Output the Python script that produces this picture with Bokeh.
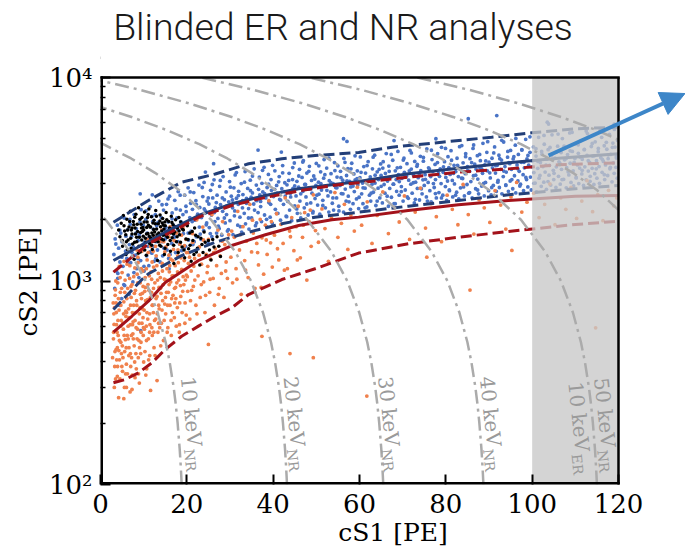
import math
from bokeh.plotting import figure
from bokeh.models import Arrow, NormalHead, FixedTicker, Title
from bokeh.embed import file_html
from bokeh.resources import INLINE
from bokeh.core.properties import value

# ---------------- data ----------------
x_ticks = [0, 20, 40, 60, 80, 100, 120]
y_ticks = [100, 1000, 10000]
y_minor_ticks = [200, 300, 400, 500, 600, 700, 800, 900, 2000, 3000, 4000, 5000, 6000, 7000, 8000, 9000]
y_tick_labels = {100: "10\u00b2", 1000: "10\u00b3", 10000: "10\u2074"}

# ER (blue) events: (cS1, cS2)
er_events = [
 (3.1,1350),(3.3,920),(3.4,1610),(3.7,1120),(3.9,1880),(4.0,1030),(4.2,1450),(4.5,1240),(4.7,1720),(4.9,820),
 (5.0,1560),(5.2,1180),(5.5,2040),(5.6,950),(5.8,1400),(6.1,1290),(6.3,1790),(6.4,1070),(6.7,1510),(6.9,1900),
 (7.0,1230),(7.2,1660),(7.5,990),(7.6,1470),(7.8,2120),(8.1,1340),(8.3,1810),(8.4,1150),(8.7,1580),(8.9,1040),
 (9.0,1690),(9.3,1260),(9.4,2240),(9.6,1410),(9.9,1880),(10.1,1120),(10.2,1550),(10.5,2010),(10.7,1330),(10.8,1720),
 (11.0,1480),(11.2,1190),(11.5,2320),(11.6,1640),(11.9,1370),(12.1,1960),(12.2,1800),(12.4,1250),(12.7,2120),(12.9,1560),
 (13.0,1870),(13.2,1420),(13.5,2470),(13.6,1690),(13.8,1240),(14.1,2050),(14.3,1560),(14.4,1330),(14.6,2230),(14.9,1780),
 (15.0,1610),(15.3,2380),(15.4,1420),(15.7,1950),(15.8,1290),(16.0,2610),(16.2,1770),(16.5,1530),(16.6,2160),(16.9,1880),
 (17.1,1640),(17.2,2490),(17.4,1380),(17.7,2040),(17.9,1790),(18.0,2750),(18.3,1520),(18.5,2230),(18.6,1960),(18.8,1410),
 (19.1,2120),(19.2,1710),(19.5,2640),(19.7,1480),(19.8,2330),(20.1,1890),(20.3,2870),(20.4,1590),(20.7,2050),(20.9,2410),
 (21.0,1760),(21.3,2250),(21.4,1510),(21.6,2720),(21.9,1990),(22.1,2480),(22.2,1650),(22.5,2130),(22.8,2960),(22.9,1840),
 (23.0,2300),(23.3,1600),(23.4,2050),(23.7,2600),(23.9,1770),(24.0,3050),(24.3,2210),(24.6,1930),(24.7,2470),(24.9,1540),
 (25.1,2390),(25.2,1830),(25.5,2790),(25.7,2110),(25.8,1650),(26.0,2560),(26.3,3140),(26.5,1960),(26.6,2300),(26.9,1720),
 (27.0,2640),(27.2,2030),(27.5,1810),(27.6,2920),(27.8,2370),(28.1,1680),(28.3,2200),(28.4,3260),(28.7,2510),(28.9,1930),
 (29.1,2740),(29.2,2120),(29.4,1760),(29.7,2450),(29.9,3080),(30.0,1980),(30.3,2610),(30.6,2290),(30.7,1690),(30.9,2870),
 (31.1,2210),(31.2,3320),(31.5,2550),(31.8,1880),(31.9,2380),(32.0,2760),(32.3,2060),(32.6,3010),(32.7,1740),(32.9,2480),
 (33.0,2660),(33.3,2150),(33.5,3450),(33.6,1910),(33.8,2410),(34.1,2850),(34.3,2270),(34.4,1800),(34.7,3130),(34.9,2580),
 (35.0,2040),(35.2,2710),(35.5,2390),(35.6,3560),(35.9,1870),(36.1,2960),(36.2,2480),(36.5,2170),(36.8,3240),(36.9,2650),
 (37.1,2320),(37.3,1960),(37.4,3020),(37.6,2740),(37.9,3620),(38.0,2110),(38.3,2560),(38.5,1850),(38.6,2880),(38.9,3340),
 (39.0,2430),(39.3,2060),(39.5,3150),(39.6,2790),(39.8,1920),(40.1,2600),(40.4,3480),(40.5,2250),(40.8,2950),(40.9,2700),
 (41.1,2150),(41.4,3260),(41.5,2520),(41.7,1990),(42.0,2840),(42.2,3690),(42.4,2380),(42.7,3040),(42.8,2610),(43.0,2080),
 (43.2,2970),(43.4,2460),(43.7,3380),(43.8,2230),(44.0,2700),(44.3,1980),(44.5,3150),(44.6,2850),(44.9,3800),(45.0,2340),
 (45.3,2620),(45.5,3090),(45.6,2150),(45.9,2890),(46.1,3540),(46.2,2470),(46.4,2040),(46.7,3230),(46.9,2760),(47.0,3900),
 (47.2,2290),(47.5,2980),(47.6,2590),(47.8,3390),(48.1,2110),(48.3,2830),(48.4,3660),(48.7,2420),(48.9,3120),(49.0,2700),
 (49.2,2200),(49.4,3280),(49.7,2540),(49.9,2950),(50.0,3780),(50.3,2360),(50.5,3060),(50.6,2670),(50.8,2130),(51.0,3440),
 (51.2,2800),(51.5,2490),(51.7,3200),(51.8,3950),(52.1,2290),(52.3,2930),(52.4,3590),(52.7,2620),(52.9,2180),(53.0,3110),
 (53.3,2740),(53.4,3370),(53.7,2410),(53.9,3010),(54.0,2230),(54.2,3820),(54.5,2880),(54.7,2560),(54.8,3240),(55.0,3680),
 (55.2,2330),(55.5,2950),(55.6,3460),(55.8,2690),(56.1,3130),(56.3,2180),(56.4,4000),(56.7,2830),(56.9,2470),(57.0,3300),
 (57.3,3570),(57.4,2610),(57.7,3090),(57.9,2250),(58.0,2900),(58.2,3790),(58.5,2400),(58.7,3360),(58.8,2750),(59.0,3140),
 (59.3,2530),(59.5,3480),(59.6,2960),(59.8,2270),(60.1,3220),(60.2,4070),(60.5,2680),(60.7,3030),(60.8,2400),(61.0,3650),
 (61.3,2860),(61.4,3390),(61.7,2310),(61.9,3100),(62.0,3860),(62.3,2640),(62.5,3250),(62.6,2470),(62.9,2990),(63.0,3560),
 (63.2,2730),(63.5,4150),(63.6,3030),(63.8,2350),(64.1,3440),(64.3,2860),(64.4,3150),(64.7,2560),(64.9,3760),(65.0,3300),
 (65.3,2420),(65.4,3590),(65.7,2980),(65.9,2700),(66.0,3380),(66.2,4230),(66.5,3100),(66.7,2330),(66.8,3670),(67.0,2850),
 (67.3,3240),(67.4,2580),(67.7,3920),(67.9,2990),(68.0,2400),(68.3,3480),(68.5,3150),(68.6,2760),(68.9,4330),(69.0,3330),
 (69.2,2640),(69.5,3620),(69.7,2910),(69.8,3190),(70.1,2470),(70.3,4010),(70.4,3420),(70.6,2800),(70.9,3280),(71.0,3770),
 (71.3,2550),(71.4,3130),(71.7,4380),(71.9,2990),(72.0,3550),(72.2,2700),(72.5,3310),(72.7,2420),(72.8,3870),(73.0,3060),
 (73.3,3660),(73.4,2850),(73.6,3220),(73.9,2500),(74.1,4100),(74.2,3490),(74.5,2680),(74.7,3140),(74.8,3880),(75.0,2950),
 (75.2,3330),(75.5,2590),(75.6,4460),(75.9,3050),(76.0,3600),(76.3,2780),(76.5,3260),(76.6,2450),(76.8,3950),(77.0,3450),
 (77.3,2880),(77.5,3740),(77.6,3150),(77.8,2560),(78.1,4220),(78.3,3370),(78.4,2720),(78.7,3560),(78.9,3010),(79.0,4540),
 (79.3,2640),(79.4,3420),(79.7,3860),(79.9,2910),(80.0,3230),(80.2,2490),(80.5,4080),(80.7,3610),(80.8,2800),(81.0,3340),
 (81.2,4370),(81.5,3120),(81.6,2590),(81.9,3700),(82.0,3000),(82.3,3450),(82.5,2730),(82.6,4010),(82.9,3260),(83.0,2530),
 (83.3,3560),(83.4,2870),(83.7,4630),(83.9,3190),(84.0,3810),(84.3,2620),(84.5,3370),(84.6,4220),(84.9,2980),(85.0,3650),
 (85.3,2700),(85.5,3460),(85.6,3990),(85.8,3080),(86.1,2560),(86.3,4480),(86.4,3290),(86.7,3750),(86.9,2840),(87.0,3550),
 (87.3,4130),(87.4,3170),(87.6,2680),(87.9,3600),(88.0,3900),(88.3,2930),(88.5,3380),(88.6,4750),(88.9,2620),(89.0,3720),
 (89.2,3050),(89.5,4290),(89.6,3480),(89.9,2780),(90.0,3840),(90.3,3210),(90.5,2650),(90.7,4010),(90.8,3600),(91.0,2950),
 (91.3,4560),(91.5,3390),(91.7,2760),(91.9,3700),(92.1,3120),(92.3,4150),(92.4,2880),(92.7,3540),(92.9,3930),(93.0,2680),
 (93.3,3260),(93.4,4820),(93.7,3650),(93.9,2950),(94.0,3430),(94.3,4060),(94.5,2760),(94.6,3820),(94.9,3100),(95.0,4380),
 (95.2,3540),(95.5,2840),(95.6,3980),(95.9,3290),(96.1,4650),(96.2,2710),(96.5,3720),(96.7,3100),(96.8,4190),(97.0,3460),
 (97.3,2990),(97.5,3830),(97.6,4420),(97.9,3330),(98.0,2780),(98.2,3600),(98.5,4970),(98.7,3150),(98.8,3980),(99.0,2900),
 (99.2,3710),(99.5,4290),(99.6,3240),(99.8,2800),(100.1,3900),(100.3,4560),(100.4,3410),(100.7,3030),(100.9,4110),(101.0,2740),
 (101.3,3580),(101.5,5080),(101.6,3200),(101.9,3820),(102.1,2920),(102.2,4330),(102.5,3650),(102.7,3060),(102.8,4700),(103.0,3430),
 (103.3,2820),(103.4,3970),(103.7,4420),(103.9,3310),(104.0,3700),(104.3,2960),(104.5,4150),(104.6,5230),(104.9,3500),(105.0,3150),
 (105.3,4010),(105.5,2880),(105.6,3640),(105.9,4600),(106.1,3270),(106.2,3850),(106.5,2990),(106.7,4280),(106.8,3540),(107.0,5010),
 (107.3,3160),(107.5,3940),(107.6,4490),(107.9,2870),(108.0,3610),(108.2,4180),(108.5,3320),(108.7,5340),(108.8,3790),(109.0,3050),
 (109.3,4330),(109.5,3480),(109.6,2930),(109.9,4000),(110.1,4720),(110.2,3230),(110.5,3720),(110.7,4240),(110.8,3010),(111.0,3590),
 (111.3,4900),(111.5,3360),(111.6,3960),(111.9,2950),(112.1,4430),(112.2,3640),(112.5,3140),(112.7,4140),(112.8,5300),(113.0,3470),
 (113.3,3830),(113.4,3090),(113.7,4580),(113.9,3580),(114.0,4110),(114.3,2980),(114.5,3370),(114.6,4830),(114.9,3900),(115.0,3200),
 (115.3,4320),(115.5,3650),(115.6,3020),(115.9,4040),(116.1,5080),(116.2,3420),(116.5,3870),(116.7,4620),(116.8,3150),(117.0,3720),
 (117.3,4440),(117.5,3300),(117.6,3990),(117.9,5250),(118.0,3560),(118.2,4190),(118.5,3070),(118.7,4760),(118.8,3810),(119.0,3380),
 (119.2,4550),(119.4,3620),(119.5,4090),(119.7,3200),(119.8,4900),
 (26.2,3770),(56.3,5000),(57.1,4850),(85.2,6270),(91.8,6500),(103.8,5910),(9.3,571),(12.0,2650),(36.5,4400),(68.0,4900),
 (116.5,5500),(119.0,5900),(9.2,2680),(24.3,3430),(103.5,6030),(4.4,760),(6.6,860),(15.9,1150),(41.9,4300),(77.7,5000),
 (3.55,1520),(4.02,1090),(4.48,1780),(4.95,1310),(5.41,960),(5.88,1660),(6.35,1230),(6.81,2010),(7.28,1380),(7.74,1100),
 (8.21,1720),(8.67,1290),(9.14,1950),(9.61,1500),(10.07,1180),(10.54,2210),(10.99,1620),(11.46,1390),(11.93,2080),(12.39,1480),
 (12.86,1290),(13.32,1940),(13.79,1610),(14.26,2370),(14.72,1450),(15.19,1830),(15.65,2530),(16.12,1350),(16.58,2020),(17.05,1690),
 (17.52,2260),(17.98,1560),(18.45,2640),(18.91,1830),(19.38,1450),(19.85,2190),(20.31,1720),(20.78,2740),(21.24,1960),(21.71,1560),
 (22.17,2380),(22.64,2050),(23.11,1700),(23.57,2880),(24.04,2260),(24.5,1890),(24.97,2560),(25.43,1710),(25.9,2980),(26.37,2170),
 (26.83,2430),(27.3,1860),(27.76,3120),(28.23,2560),(28.69,2040),(29.16,2330),(29.63,1790),(30.09,2890),(30.56,2500),(31.02,2090),
 (31.49,3410),(31.95,2630),(32.42,1850),(32.89,2290),(33.35,3060),(33.82,2550),(34.28,2040),(34.75,2780),(35.21,3280),(35.68,2230),
 (36.15,1930),(36.61,2820),(37.08,2460),(37.54,3500),(38.01,2690),(38.47,2010),(38.94,2990),(39.41,2380),(39.87,3700),(40.34,2820),
 (40.8,2150),(41.27,3070),(41.73,2500),(42.2,3400),(42.67,2750),(43.13,2070),(43.6,3120),(44.06,2590),(44.53,3610),(44.99,2930),
 (45.46,2260),(45.93,3280),(46.39,2680),(46.86,3840),(47.32,2980),(47.79,2390),(48.25,3460),(48.72,2840),(49.19,2160),(49.65,3170),
 (50.12,2640),(50.58,3680),(51.05,3010),(51.51,2350),(51.98,3330),(52.45,2790),(52.91,4010),(53.38,3040),(53.84,2560),(54.31,3490),
 (54.77,2870),(55.24,2210),(55.71,3220),(56.17,2680),(56.64,3830),(57.1,3100),(57.57,2450),(58.03,3560),(58.5,2930),(58.97,4120),
 (59.43,3180),(59.9,2580),(60.36,3420),(60.83,2870),(61.29,2290),(61.76,3690),(62.23,3140),(62.69,2700),(63.16,4060),(63.62,3310),
 (64.09,2470),(64.55,3540),(65.02,2920),(65.49,3860),(65.95,3180),(66.42,2610),(66.88,3460),(67.35,4190),(67.81,2990),(68.28,2400),
 (68.75,3600),(69.21,3080),(69.68,2750),(70.14,3930),(70.61,3250),(71.07,2590),(71.54,3480),(72.01,4260),(72.47,3040),(72.94,2520),
 (73.4,3740),(73.87,3330),(74.33,2840),(74.8,4050),(75.27,3160),(75.73,2470),(76.2,3550),(76.66,4390),(77.13,3010),(77.59,2690),
 (78.06,3820),(78.53,3270),(78.99,2560),(79.46,3640),(79.92,4480),(80.39,3100),(80.85,2780),(81.32,3920),(81.79,3380),(82.25,2640),
 (82.72,3700),(83.18,4570),(83.65,3200),(84.11,2900),(84.58,4080),(85.05,3490),(85.51,2720),(85.98,3820),(86.44,4660),(86.91,3310),
 (87.37,2800),(87.84,4190),(88.31,3560),(88.77,3020),(89.24,3890),(89.7,4840),(90.17,3400),(90.63,2880),(91.1,4260),(91.57,3690),
 (92.03,3060),(92.5,3990),(92.96,4910),(93.43,3470),(93.89,2970),(94.36,4330),(94.83,3770),(95.29,3150),(95.76,4080),(96.22,5020),
 (96.69,3560),(97.15,2930),(97.62,4400),(98.09,3830),(98.55,3230),(99.02,4140),(99.48,5110),(99.95,3640),(100.41,3020),(100.88,4470),
 (101.35,3870),(101.81,3300),(102.28,4200),(102.74,5190),(103.21,3710),(103.67,3080),(104.14,4530),(104.61,3940),(105.07,3380),(105.54,4290),
 (106.0,5270),(106.47,3770),(106.93,3150),(107.4,4600),(107.87,4000),(108.33,3440),(108.8,4360),(109.26,5380),(109.73,3830),(110.19,3210),
 (110.66,4670),(111.13,4060),(111.59,3500),(112.06,4420),(112.52,5460),(112.99,3900),(113.45,3270),(113.92,4740),(114.39,4120),(114.85,3560),
 (115.32,4480),(115.78,5510),(116.25,3960),(116.71,3330),(117.18,4800),(117.65,4170),(118.11,3620),(118.58,4540),(119.04,5560),(119.51,4020),
]

# NR (orange) events: (cS1, cS2)
nr_events = [
 (2.8,420),(3.0,520),(3.1,690),(3.3,380),(3.4,850),(3.6,460),(3.7,610),(3.9,340),(4.0,980),(4.1,540),
 (4.3,720),(4.4,410),(4.6,880),(4.7,500),(4.8,640),(5.0,1100),(5.1,360),(5.3,580),(5.4,790),(5.6,450),
 (5.7,1010),(5.9,670),(6.0,390),(6.2,540),(6.3,920),(6.5,730),(6.6,470),(6.8,1190),(6.9,610),(7.1,830),
 (7.2,420),(7.4,700),(7.5,550),(7.7,1050),(7.8,480),(8.0,640),(8.1,900),(8.3,370),(8.4,760),(8.6,580),
 (8.7,1230),(8.9,510),(9.0,690),(9.2,980),(9.3,440),(9.5,820),(9.6,620),(9.8,1120),(9.9,540),
 (10.1,720),(10.3,450),(10.4,930),(10.6,600),(10.8,1270),(10.9,810),(11.1,520),(11.3,1060),(11.4,690),(11.6,1480),
 (11.8,880),(11.9,590),(12.1,760),(12.3,1170),(12.4,470),(12.6,980),(12.8,650),(12.9,1330),(13.1,840),(13.3,560),
 (13.4,1090),(13.6,730),(13.8,1560),(13.9,920),(14.1,620),(14.3,1220),(14.4,800),(14.6,510),(14.8,1020),(14.9,1390),
 (15.1,690),(15.3,880),(15.4,1150),(15.6,590),(15.8,1650),(15.9,960),(16.1,760),(16.3,1280),(16.4,540),(16.6,1060),
 (16.8,850),(16.9,1430),(17.1,660),(17.3,1190),(17.4,930),(17.6,1720),(17.8,740),(17.9,1330),(18.1,1010),(18.3,610),
 (18.4,1520),(18.6,840),(18.8,1140),(18.9,700),(19.1,1820),(19.3,960),(19.4,1260),(19.6,780),(19.8,1600),(19.9,1070),
 (20.2,890),(20.5,1380),(20.7,650),(21.0,1120),(21.3,1710),(21.5,940),(21.8,1290),(22.1,760),(22.3,2000),(22.6,1060),
 (22.9,1470),(23.1,830),(23.4,1210),(23.7,1840),(23.9,990),(24.2,700),(24.5,1350),(24.7,1100),(25.0,1600),(25.3,880),
 (25.5,1280),(25.8,2120),(26.1,1030),(26.4,760),(26.6,1440),(26.9,1190),(27.2,1780),(27.5,920),(27.7,1330),(28.0,1090),
 (28.3,1960),(28.6,830),(28.8,1510),(29.1,1240),(29.4,1030),(29.7,1690),
 (30.2,1310),(30.6,980),(31.0,1640),(31.4,1150),(31.8,2200),(32.2,1420),(32.6,860),(33.0,1850),(33.4,1260),(33.8,1570),
 (34.2,1040),(34.6,2380),(35.0,1390),(35.4,1720),(35.8,920),(36.2,1530),(36.6,1200),(37.0,2010),(37.4,1630),(37.8,1080),
 (38.2,1880),(38.6,1350),(39.0,2480),(39.4,1540),(39.8,1170),
 (40.3,1680),(40.8,2140),(41.3,1270),(41.8,1900),(42.3,1530),(42.8,2560),(43.3,1150),(43.8,1760),(44.3,2050),(44.8,1410),
 (45.3,1850),(45.8,2330),(46.3,1300),(46.8,1640),(47.3,2170),(47.8,1010),(48.3,1960),(48.8,1480),(49.3,2650),(49.8,1770),
 (50.5,1550),(51.3,2260),(52.0,1810),(52.8,1250),(53.5,2040),(54.3,2720),(55.0,1640),(55.8,1920),(56.5,2380),(57.3,1430),
 (58.0,2110),(58.8,1760),(59.5,2890),
 (60.5,1880),(61.8,2450),(62.9,1530),(64.1,2100),(65.4,2740),(66.7,1710),(68.0,2290),(69.2,1950),(70.4,2620),(71.6,1600),
 (72.9,2180),(74.1,2860),(75.3,1820),(76.6,2400),(77.8,2070),(79.0,1560),(80.3,2640),(81.5,2250),(82.8,1890),(84.0,2980),
 (85.2,2120),(86.5,1700),(87.7,2510),(88.9,2290),(90.2,1940),(91.4,2780),(92.7,2360),(93.9,1800),(95.1,2590),(96.4,3050),
 (97.6,2180),(98.8,2440),
 (100.4,2700),(101.6,2050),(102.9,2380),(104.1,3000),(105.3,1890),(106.6,2560),(107.8,2250),(109.0,2880),(110.3,2030),(111.5,2470),
 (112.7,3110),(114.0,2190),(115.2,2660),(116.4,1980),(117.7,2790),(118.9,2340),(119.6,2560),
 (25.0,488),(43.9,440),(49.3,420),(37.4,535),(85.6,902),(114.7,589),(61.7,272),(95.3,1413),(75.6,1310),(5.4,264),
 (11.6,290),(13.1,324),(4.2,267),(7.3,293),(9.0,315),(6.0,300),(3.5,330),(10.5,345),(8.0,335),
 (3.2,300),(3.9,470),(4.5,330),(5.2,420),(5.8,350),(6.4,600),(7.0,380),(7.6,520),(8.2,440),(8.8,350),
 (9.4,560),(10.0,400),(10.7,370),(11.4,430),(12.0,540),(3.6,780),(4.9,920),(6.1,820),(7.3,960),(8.5,1080),
 (9.7,870),(11.0,960),(12.2,1400),
 (3.15,612),(3.45,905),(3.85,560),(4.25,455),(4.55,1040),(4.95,380),(5.35,690),(5.75,515),(6.15,1210),(6.55,430),
 (6.95,760),(7.35,345),(7.85,870),(8.25,590),(8.65,1310),(9.05,470),(9.45,1150),(9.85,660),(10.25,890),(10.65,510),
 (11.05,1380),(11.45,610),(11.85,1020),(12.25,700),(12.65,430),(13.05,1190),(13.45,620),(13.85,1040),(14.25,720),(14.65,1560),
 (15.05,830),(15.45,560),(15.85,1340),(16.25,990),(16.65,700),(17.05,1580),(17.45,820),(17.85,1110),(18.25,560),(18.65,1300),
 (19.05,890),(19.45,1490),(19.85,680),(20.35,1220),(20.85,800),(21.35,1550),(21.85,1010),(22.35,690),(22.85,1340),(23.35,960),
 (23.85,1590),(24.35,850),(24.85,1180),(3.25,740),(3.75,410),(4.15,820),(4.65,600),(5.05,480),(5.45,1250),(5.85,710),
 (6.25,350),(6.75,1030),(7.15,540),(7.55,630),(7.95,1160),(8.35,800),(8.75,420),(9.15,740),(9.55,1400),(9.95,590),
 (10.35,1040),(10.75,700),(11.15,410),(11.55,830),(11.95,1240),(12.35,560),(12.75,1480),(13.15,690),(13.55,930),(13.95,480),
 (14.35,1120),(14.75,640),(15.15,1470),(15.55,760),(15.95,1110),(16.35,640),(16.75,1260),(17.15,920),(17.55,600),(17.95,1420),
 (18.35,780),(18.75,1680),(19.15,1050),(19.55,620),(19.95,1380),(4.35,1180),(5.55,300),(6.85,285),(8.45,1420),(10.85,1600),
 (12.45,1650),(14.15,1780),(16.15,1850),(3.55,1000),(2.95,780),
 (25.4,1020),(26.2,1380),(27.3,860),(28.2,1570),(29.0,1120),(30.4,1760),(31.6,1020),(32.4,1690),(33.6,1130),(35.2,1990),
 (36.4,1380),(37.2,930),(38.4,1590),(39.6,1960),(41.0,1440),(42.6,1130),(44.0,1650),(45.6,1270),(47.0,1880),(48.6,2230),
 (3.05,560),(3.35,450),(3.65,700),(3.95,380),(4.05,640),(4.38,510),(4.72,760),(4.85,440),(5.15,620),(5.48,540),
 (5.62,880),(5.95,470),(6.05,700),(6.42,520),(6.58,660),(6.92,440),(7.05,940),(7.42,610),(7.68,760),(7.92,400),
 (8.15,700),(8.48,520),(8.62,980),(8.95,620),(9.25,860),(9.38,500),(9.72,730),(9.88,940),(10.18,580),(10.45,800),
 (10.62,1150),(10.95,650),(11.22,900),(11.38,560),(11.72,1110),(11.98,760),(12.28,920),(12.52,640),(12.88,820),(13.22,1010),
 (13.48,760),(13.72,590),(14.02,870),(14.52,960),(14.88,770),(15.22,1010),(15.72,880),(16.02,1190),(16.48,820),(16.92,1060),
 (17.22,780),(17.68,980),(18.02,1230),(18.52,950),(19.02,1130),(19.68,1010),(20.12,1050),(20.62,1310),(21.12,900),(21.62,1180),
]

# black events: (cS1, cS2)
blk_events = [
 (4.5,1650),(4.8,1920),(5.1,1480),(5.3,2100),(5.6,1760),(5.9,1350),(6.1,2010),(6.4,1590),(6.6,1840),(6.9,2200),
 (7.1,1450),(7.3,1700),(7.6,1960),(7.8,1280),(8.0,1820),(8.2,2130),(8.4,1560),(8.6,1750),(8.8,2290),(9.0,1640),
 (9.2,1390),(9.4,1900),(9.6,2050),(9.8,1500),(10.0,1780),(10.2,2180),(10.4,1620),(10.6,1340),(10.8,1950),(11.0,1710),
 (11.2,2260),(11.4,1530),(11.6,1840),(11.8,2070),(12.0,1430),(12.2,1680),(12.4,1990),(12.6,1570),(12.8,2220),(13.0,1800),
 (13.2,1260),(13.4,1910),(13.6,1650),(13.8,2110),(14.0,1480),(14.2,1760),(14.4,2030),(14.6,1590),(14.8,1350),(15.0,1870),
 (15.2,2170),(15.4,1700),(15.6,1510),(15.8,1960),(16.0,1820),(16.2,1400),(16.4,2080),(16.6,1630),(16.8,1890),(17.0,1220),
 (17.2,1740),(17.4,2000),(17.6,1560),(17.8,1820),(18.0,1380),(18.3,1690),(18.6,1950),(18.9,1470),(19.2,1780),(19.5,1300),
 (19.8,1610),(20.1,1870),(20.4,1440),(20.7,1720),(21.0,1250),(21.4,1580),(21.8,1820),(22.2,1390),(22.6,1650),(23.0,1200),
 (23.5,1510),(24.0,1740),(24.5,1330),(25.0,1580),(25.6,1270),(26.3,1470),(27.0,1650),(27.8,1320),
 (7.0,1620),(8.5,1900),(9.9,1660),(11.1,1880),(12.3,1790),(13.5,1720),(14.9,1950),(10.5,1550),(12.9,1580),(15.5,1640),
 (9.3,1730),(11.7,1620),(6.3,1780),(16.9,1700),(13.9,1850),(8.9,1480),(12.7,1910),(14.5,1680),(10.9,2050),(7.9,1550),
 (5.05,1580),(5.45,1870),(5.85,1690),(6.25,1430),(6.75,1960),(7.15,1780),(7.45,1520),(7.95,2060),(8.35,1640),(8.75,1370),
 (9.15,2010),(9.55,1590),(9.85,1830),(10.25,1420),(10.65,1700),(11.05,2120),(11.45,1840),(11.85,1500),(12.15,1930),(12.55,1740),
 (12.95,2080),(13.35,1560),(13.75,1970),(14.15,1610),(14.55,1880),(14.95,1450),(15.35,2000),(15.75,1760),(16.15,1580),(16.55,1940),
 (16.95,1500),(17.35,1850),(17.75,1650),(18.15,2050),(18.55,1550),(18.95,1800),(19.35,1420),(19.75,1930),(20.25,1600),(20.75,1500),
 (21.25,1750),(21.65,1350),(22.05,1680),(22.45,1450),(23.25,1620),(23.75,1380),(24.25,1550),(25.25,1420),(26.0,1600),(27.4,1480),
 (4.2,1780),(6.0,1560),(7.7,1890),(9.7,1750),(11.3,1660),(13.1,1690),(14.7,1800),(16.3,1720),(18.2,1760),(10.1,1950),
 (11.9,1720),(13.7,1500),(8.1,1700),(15.1,1680),(12.1,1570),(9.5,1820),(14.3,1930),(16.7,1800),(7.3,1820),(10.7,1830),
]

# ER band: median and upper / lower quantile lines
er_up_x  = [3.0, 11.1, 18.8, 26.6, 34.3, 42.0, 49.7, 59.8, 67.5, 79.1, 90.6, 99.9, 109.9, 120]
er_up_y  = [1945, 2487, 3058, 3356, 3766, 3986, 4138, 4280, 4545, 4809, 5088, 5349, 5597, 5699]
er_med_x = [3.0, 7.25, 15.0, 22.7, 30.4, 38.2, 45.9, 53.6, 59.8, 71.3, 82.9, 94.5, 106.1, 120]
er_med_y = [1261, 1413, 1737, 2098, 2395, 2630, 2839, 2970, 3083, 3364, 3584, 3809, 4013, 4217]
er_lo_x  = [3.0, 9.6, 11.1, 18.8, 26.6, 34.3, 42.0, 49.7, 59.8, 71.3, 82.9, 94.5, 110, 120]
er_lo_y  = [724, 1017, 1085, 1334, 1551, 1737, 1910, 2058, 2178, 2332, 2487, 2652, 2839, 2947]
# NR band
nr_up_x  = [3.0, 7.25, 11.1, 18.8, 22.7, 30.4, 38.2, 45.9, 53.6, 59.8, 71.3, 82.9, 94.5, 106.1, 120]
nr_up_y  = [1105, 1309, 1523, 1853, 2058, 2350, 2573, 2769, 2947, 3038, 3236, 3424, 3556, 3724, 3809]
nr_med_x = [3.0, 7.25, 11.1, 15.0, 22.7, 30.4, 38.2, 45.9, 53.6, 59.8, 71.3, 82.9, 94.5, 110, 120]
nr_med_y = [560, 671, 796, 983, 1261, 1494, 1687, 1874, 2000, 2060, 2220, 2368, 2487, 2610, 2631]
nr_lo_x  = [3.0, 5.7, 8.8, 11.9, 15.0, 18.8, 22.7, 26.6, 30.4, 34.3, 42.0, 49.7, 59.8, 71.3, 82.9, 94.5, 110, 120]
nr_lo_y  = [316, 328, 354, 396, 461, 535, 600, 671, 738, 858, 1017, 1148, 1372, 1523, 1641, 1751, 1895, 1967]

# iso-energy contours (cS1 values at the listed cS2)
cont_y_grid = [100, 110, 125, 150, 200, 250, 300, 400, 500, 700, 1000, 1400, 2000, 2800,
               3400, 4000, 4700, 5500, 6400, 7500, 8700, 10000, 11500, 13000]
cont_10nr = [18.8, 18.71, 18.57, 18.34, 17.87, 17.41, 16.95, 16.02, 15.1, 13.24, 10.47, 6.76, 1.21, -6.2]
cont_20nr = [43.2, 43.11, 42.97, 42.74, 42.27, 41.81, 41.35, 40.42, 39.5, 37.64, 34.87, 31.16, 25.61, 18.2,
             12.64, 7.09, 0.61, -6.8]
cont_30nr = [65.5, 65.41, 65.27, 65.04, 64.57, 64.11, 63.65, 62.72, 61.8, 59.94, 57.17, 53.46, 47.91, 40.5,
             34.94, 29.39, 22.91, 15.5, 7.17, -3.02]
cont_40nr = [88.7, 88.61, 88.47, 88.24, 87.77, 87.31, 86.85, 85.92, 85.0, 83.14, 80.37, 76.66, 71.11, 63.7,
             58.14, 52.59, 46.11, 38.7, 30.37, 20.18, 9.07, -2.97]
cont_50nr = [115, 114.91, 114.77, 114.54, 114.07, 113.61, 113.15, 112.22, 111.3, 109.44, 106.67, 102.96, 97.41, 90.0,
             84.44, 78.89, 72.41, 65.0, 56.67, 46.48, 35.37, 23.33, 9.44, -4.44]
cont_60nr_y = [1400, 2000, 2800, 3400, 4000, 4700, 5500, 6400, 7500, 8700, 10000, 11500]
cont_60nr = [127.96, 122.41, 115.0, 109.44, 103.89, 97.41, 90.0, 81.67, 71.48, 60.37, 48.33, 34.44]
cont_70nr_y = [2800, 3400, 4000, 4700, 5500, 6400, 7500, 8700, 10000, 11500]
cont_70nr = [140.0, 134.44, 128.89, 122.41, 115.0, 106.67, 96.48, 85.37, 73.33, 59.44]

# contour labels: (main text, subscript, cS1, cS2) at the start of the text baseline
cont_labels = [
    ("10 keV", "NR", 18.44, 336),
    ("20 keV", "NR", 42.28, 336),
    ("30 keV", "NR", 64.17, 336),
    ("40 keV", "NR", 87.73, 336),
    ("50 keV", "NR", 114.2, 332),
    ("10 keV", "ER", 108.2, 317),
]
blind_lo, blind_hi = 100, 120
title_text = "Blinded ER and NR analyses"

# ---------------- figure ----------------
W, H = 685, 554
ML, MR, MT, MB = 100, 0, 0, 70
X0, XMAX, Y0, YMAX = 0, 120, 100, 10000
FW, FH = W - ML - MR, H - MT - MB
PX_PER_UNIT = 518 / 120.0          # axis 0..120 spans 518 px
PX_PER_DEC = 407 / 2.0             # axis 1e2..1e4 spans 407 px
X1 = FW / PX_PER_UNIT              # frame reaches the window edge (room for arrow / title)
Y1 = 10 ** (math.log10(Y0) + FH / PX_PER_DEC)
p = figure(width=W, height=H, x_range=(X0, X1), y_range=(Y0, Y1), y_axis_type="log",
           output_backend="svg", toolbar_location=None, title=None,
           min_border_left=ML, min_border_right=MR, min_border_top=MT, min_border_bottom=MB,
           background_fill_color="white", border_fill_color="white")
p.grid.visible = False
p.outline_line_color = None

def shift(x, y, dx, dy):
    """move a data point by dx, dy screen pixels (dy positive = up)"""
    return x + dx / PX_PER_UNIT, 10 ** (math.log10(y) + dy / PX_PER_DEC)

serif = "DejaVu Serif"
for ax in (p.xaxis[0], p.yaxis[0]):
    ax.axis_line_color = None
    ax.major_tick_line_width = 2
    ax.major_tick_in = 10
    ax.major_tick_out = 0
    ax.minor_tick_out = 0
    ax.major_label_text_font = serif
    ax.major_label_text_font_size = "26px"
    ax.major_label_text_color = "black"

p.xaxis.ticker = FixedTicker(ticks=x_ticks)
p.xaxis.minor_tick_in = 0
p.xaxis.major_label_standoff = 9

p.yaxis.ticker = FixedTicker(ticks=y_ticks, minor_ticks=y_minor_ticks)
p.yaxis.minor_tick_in = 5
p.yaxis.minor_tick_line_width = 1.5
p.yaxis.major_label_overrides = y_tick_labels
p.yaxis.major_label_standoff = 8

frame_hcenter = ML + FW / 2.0
axis_hcenter = ML + 518 / 2.0
p.add_layout(Title(text="cS1 [PE]", align="center", offset=axis_hcenter - frame_hcenter,
                   text_font=serif, text_font_size="25px", text_font_style="normal",
                   text_color="black", standoff=0), "below")
p.add_layout(Title(text="cS2 [PE]", align="left", offset=148,
                   text_font=serif, text_font_size="25px", text_font_style="normal",
                   text_color="black", standoff=6), "left")

# scatter
p.scatter([e[0] for e in er_events], [e[1] for e in er_events], marker="circle", size=3.8,
          fill_color="#4a74c6", line_color=None)
p.scatter([e[0] for e in nr_events], [e[1] for e in nr_events], marker="circle", size=3.8,
          fill_color="#f0814d", line_color=None)
p.scatter([e[0] for e in blk_events], [e[1] for e in blk_events], marker="circle", size=3.5,
          fill_color="black", line_color=None)

# bands
ER_C, NR_C = "#233f78", "#a3121a"
p.line(er_up_x, er_up_y, line_color=ER_C, line_width=3, line_dash="11 5")
p.line(er_med_x, er_med_y, line_color=ER_C, line_width=3)
p.line(er_lo_x, er_lo_y, line_color=ER_C, line_width=3, line_dash="11 5")
p.line(nr_up_x, nr_up_y, line_color=NR_C, line_width=3, line_dash="11 5")
p.line(nr_med_x, nr_med_y, line_color=NR_C, line_width=3)
p.line(nr_lo_x, nr_lo_y, line_color=NR_C, line_width=3, line_dash="11 5")

# blinded region
p.quad(left=[blind_lo], right=[blind_hi], bottom=[Y0], top=[YMAX],
       fill_color="#c8c8c8", fill_alpha=0.78, line_color=None)

# contours
GC = "#ababab"
for xs, ys in [(cont_10nr, cont_y_grid[:len(cont_10nr)]), (cont_20nr, cont_y_grid[:len(cont_20nr)]),
               (cont_30nr, cont_y_grid[:len(cont_30nr)]), (cont_40nr, cont_y_grid[:len(cont_40nr)]),
               (cont_50nr, cont_y_grid[:len(cont_50nr)]), (cont_60nr, cont_60nr_y), (cont_70nr, cont_70nr_y)]:
    p.line(xs, ys, line_color=GC, line_width=2.5, line_dash="14 5 3 5")

# white outside the axes box, then the box border
p.quad(left=[XMAX], right=[X1], bottom=[Y0], top=[Y1], fill_color="white", line_color=None)
p.quad(left=[X0], right=[XMAX], bottom=[YMAX], top=[Y1], fill_color="white", line_color=None)
bx_r, by_t = shift(XMAX, YMAX, 1.25, 1.25)
p.line([X0, bx_r], [Y0, Y0], line_color="black", line_width=5)
p.line([X0, X0], [Y0, by_t], line_color="black", line_width=5)
p.line([X0, bx_r], [YMAX, YMAX], line_color="black", line_width=2.5)
p.line([XMAX, XMAX], [Y0, YMAX], line_color="black", line_width=2.5)

# contour labels (text drawn with a "middle" baseline, so lift by ~0.38 em from the baseline)
ang = math.radians(-84)
ux, uy = math.cos(ang), math.sin(ang)        # along the text
vx, vy = -math.sin(ang), math.cos(ang)       # glyph "up"
FS_MAIN, FS_SUB = 20, 14
main_len, sub_drop, mid = 72, 4, 0.38
mx, my, mt, sx, sy, st = [], [], [], [], [], []
for main, sub, x, y in cont_labels:
    a, b = shift(x, y, mid * FS_MAIN * vx, mid * FS_MAIN * vy)
    mx.append(a); my.append(b); mt.append(main)
    k = mid * FS_SUB - sub_drop
    a, b = shift(x, y, main_len * ux + k * vx, main_len * uy + k * vy)
    sx.append(a); sy.append(b); st.append(sub)
p.text(mx, my, text=mt, angle=ang, text_font=value(serif), text_font_size=f"{FS_MAIN}px",
       text_color="#9a9a9a", text_align="left", text_baseline="middle")
p.text(sx, sy, text=st, angle=ang, text_font=value(serif), text_font_size=f"{FS_SUB}px",
       text_color="#9a9a9a", text_align="left", text_baseline="middle")

# title
tx, ty = shift(X0, Y0, 342.5 - ML, 484 - 26)
p.text([tx], [ty], text=[title_text], text_font=value("Roboto Light"), text_font_size="37.5px",
       text_color="#1a1a1a", text_align="center", text_baseline="middle")

# arrow leaving the axes box
AC = "#3d86c8"
ax0, ay0 = 103.8, 4138
ax1, ay1 = 135.4, 8340
p.add_layout(Arrow(end=NormalHead(size=24, fill_color=AC, line_color=AC),
                   x_start=ax0, y_start=ay0, x_end=ax1, y_end=ay1,
                   line_color=AC, line_width=4, level="overlay"))

open("out.html", "w").write(file_html(p, INLINE))
